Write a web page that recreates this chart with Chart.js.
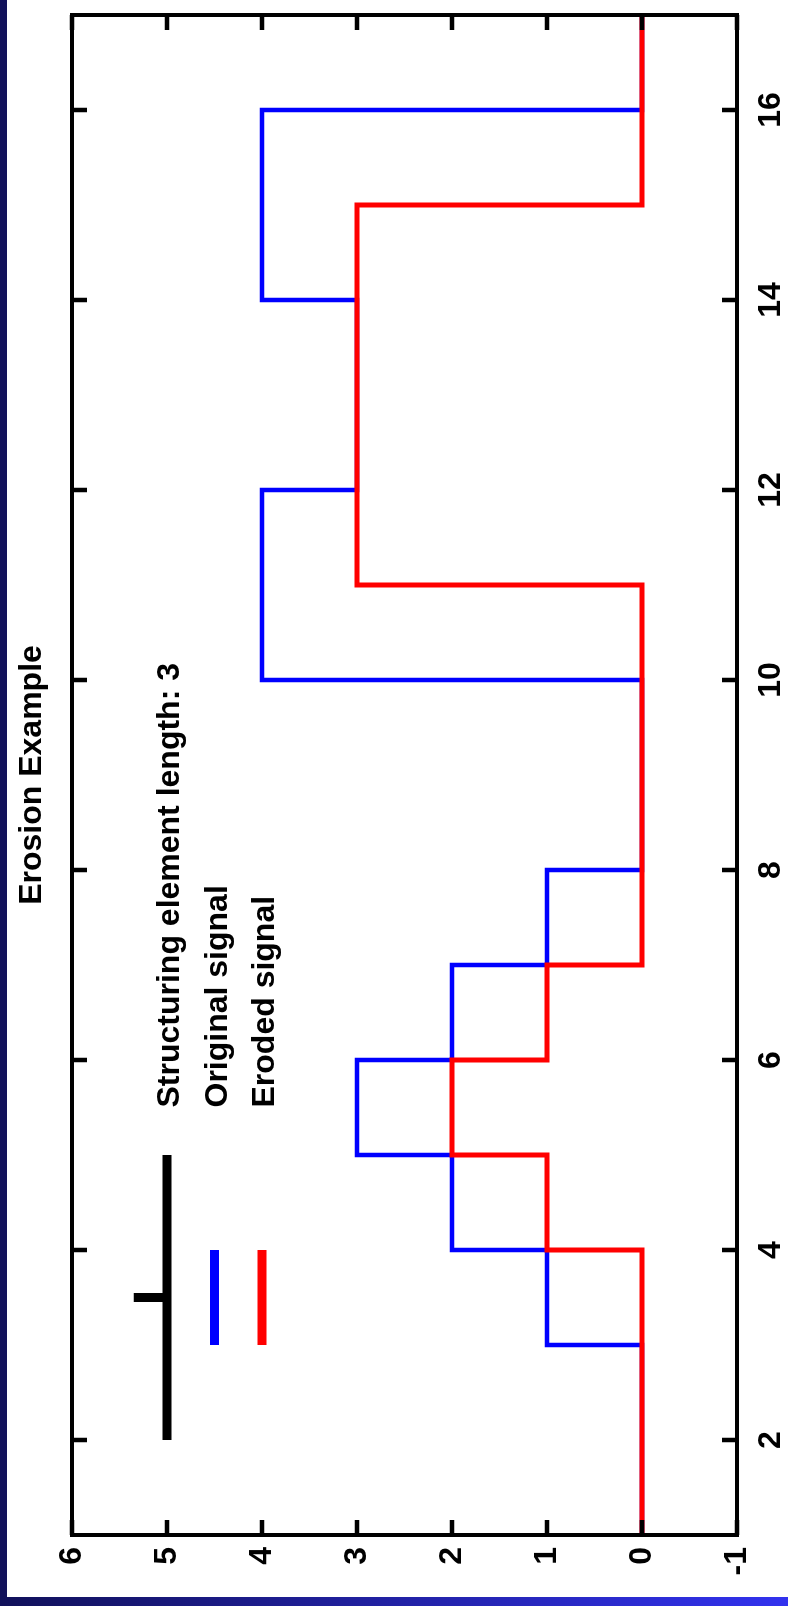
<!DOCTYPE html>
<html>
<head>
<meta charset="utf-8">
<title>Erosion Example</title>
<script src="https://cdn.jsdelivr.net/npm/chart.js@4.4.1/dist/chart.umd.min.js"></script>
<style>
  html, body { margin: 0; padding: 0; background: #fff; }
  .page { position: relative; width: 788px; height: 1606px; overflow: hidden; background: #fff; }
  /* the plot is drawn landscape and turned a quarter left */
  .chart-box {
    position: absolute; left: 0; top: 0; width: 1606px; height: 788px;
    transform-origin: 0 0; transform: translateY(1606px) rotate(-90deg);
  }
  .edge-left { position: absolute; left: 0; top: 0; width: 7px; height: 1606px; background: #11115a; }
  .edge-bottom {
    position: absolute; left: 0; bottom: 0; width: 788px; height: 9px;
    background: linear-gradient(to right, #11115a, #3232ee);
  }
</style>
</head>
<body>
<div class="page">
  <div class="chart-box"><canvas id="myChart" width="1606" height="788"></canvas></div>
  <div class="edge-left"></div>
  <div class="edge-bottom"></div>
</div>
<script>
//? DATA

const positions = [1, 2, 3, 4, 5, 6, 7, 8, 9, 10, 11, 12, 13, 14, 15, 16, 17];
const originalSignal = [0, 0, 1, 2, 3, 2, 1, 0, 0, 4, 4, 3, 3, 4, 4, 0, 0];
const erodedSignal = [0, 0, 0, 1, 2, 1, 0, 0, 0, 0, 3, 3, 3, 3, 0, 0, 0];
const xTicks = [2, 4, 6, 8, 10, 12, 14, 16];
const yTicks = [-1, 0, 1, 2, 3, 4, 5, 6];

// structuring element drawn in the key area
const elementSpan = [2, 5];
const elementLevel = 5;
const elementOrigin = 3.5;
const elementOriginTop = 5.35;

// key
const keyLabels = ["Structuring element length: 3", "Original signal", "Eroded signal"];
const keyLevels = [5, 4.5, 4];
const keySampleSpan = [3, 4];
const keyTextStart = 5.5;

//? SETTINGS

const fontFamily = '"Liberation Sans", Arial, sans-serif';
const labelFont = { family: fontFamily, size: 32, weight: "bold" };
Chart.defaults.color = "#000";
Chart.defaults.font.family = fontFamily;

const toPoints = (xs, ys) => xs.map((x, i) => ({ x, y: ys[i] }));

//? PLUGIN: KEY TEXT

const keyText = {
  id: "keyText",
  afterDatasetsDraw(chart) {
    const { ctx, scales } = chart;
    ctx.save();
    ctx.font = `bold 32px ${fontFamily}`;
    ctx.fillStyle = "#000";
    ctx.textAlign = "left";
    ctx.textBaseline = "alphabetic";
    keyLabels.forEach((label, i) => {
      const x = scales.x.getPixelForValue(keyTextStart);
      const y = scales.y.getPixelForValue(keyLevels[i]) + 12;
      ctx.fillText(label, x, y);
    });
    ctx.restore();
  },
};

//? PLUGIN: BORDER BOX WITH INWARD TICKS

const frameBox = {
  id: "frameBox",
  afterDatasetsDraw(chart) {
    const { ctx, chartArea: a, scales } = chart;
    const len = 15;
    ctx.save();
    ctx.strokeStyle = "#000";
    ctx.lineWidth = 4.5;
    ctx.beginPath();
    xTicks.forEach((v) => {
      const px = scales.x.getPixelForValue(v);
      ctx.moveTo(px, a.bottom);
      ctx.lineTo(px, a.bottom - len);
      ctx.moveTo(px, a.top);
      ctx.lineTo(px, a.top + len);
    });
    yTicks.forEach((v) => {
      const py = scales.y.getPixelForValue(v);
      ctx.moveTo(a.left, py);
      ctx.lineTo(a.left + len, py);
      ctx.moveTo(a.right, py);
      ctx.lineTo(a.right - len, py);
    });
    ctx.stroke();
    ctx.lineWidth = 4;
    ctx.strokeRect(a.left, a.top, a.right - a.left, a.bottom - a.top);
    ctx.restore();
  },
};

//? CHART

const datasets = [
  {
    label: "Original signal",
    data: toPoints(positions, originalSignal),
    borderColor: "#0000ff",
    borderWidth: 4.5,
    stepped: "before",
    order: 4,
  },
  {
    label: "Eroded signal",
    data: toPoints(positions, erodedSignal),
    borderColor: "#ff0000",
    borderWidth: 5,
    stepped: "before",
    order: 3,
  },
  {
    label: "Structuring element",
    data: toPoints(elementSpan, [elementLevel, elementLevel]),
    borderColor: "#000",
    borderWidth: 9,
    order: 2,
  },
  {
    label: "Element origin",
    data: toPoints([elementOrigin, elementOrigin], [elementLevel, elementOriginTop]),
    borderColor: "#000",
    borderWidth: 9,
    order: 1,
  },
  {
    label: "Original key",
    data: toPoints(keySampleSpan, [keyLevels[1], keyLevels[1]]),
    borderColor: "#0000ff",
    borderWidth: 9,
    order: 1,
  },
  {
    label: "Eroded key",
    data: toPoints(keySampleSpan, [keyLevels[2], keyLevels[2]]),
    borderColor: "#ff0000",
    borderWidth: 9,
    order: 1,
  },
];

datasets.forEach((d) => {
  d.pointRadius = 0;
  d.fill = false;
  d.borderCapStyle = "butt";
  d.borderJoinStyle = "miter";
});

new Chart("myChart", {
  type: "line",
  data: { datasets },
  plugins: [keyText, frameBox],
  options: {
    responsive: false,
    animation: false,
    layout: { padding: { left: 0, right: 15, top: 0, bottom: 0 } },
    plugins: {
      legend: { display: false },
      tooltip: { enabled: false },
      title: {
        display: true,
        text: "Erosion Example",
        color: "#000",
        fullSize: false,
        font: { ...labelFont, lineHeight: 1.2 },
        padding: { top: 12.6, bottom: 21 },
      },
    },
    scales: {
      x: {
        type: "linear",
        min: 1,
        max: 17,
        afterBuildTicks: (axis) => {
          axis.ticks = xTicks.map((value) => ({ value }));
        },
        afterFit: (scale) => {
          scale.height = 51;
        },
        grid: { display: false, drawTicks: false },
        border: { display: false },
        ticks: { font: labelFont, color: "#000", padding: 15, maxRotation: 0, autoSkip: false },
      },
      y: {
        type: "linear",
        min: -1,
        max: 6,
        afterBuildTicks: (axis) => {
          axis.ticks = yTicks.map((value) => ({ value }));
        },
        afterFit: (scale) => {
          scale.width = 71;
        },
        grid: { display: false, drawTicks: false },
        border: { display: false },
        ticks: { font: labelFont, color: "#000", padding: 12, autoSkip: false },
      },
    },
  },
});
</script>
</body>
</html>
